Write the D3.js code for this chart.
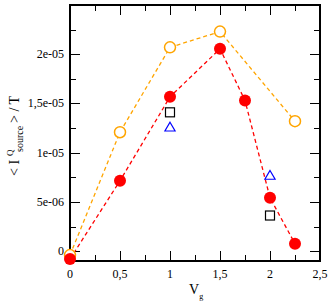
<!DOCTYPE html>
<html>
<head>
    <style>
        body { margin: 0; background: #fff; }
        svg { font-family: "Liberation Serif", "DejaVu Serif", serif; }
        .tick-label { font-size: 12px; fill: #000; }
        .axis-title { font-size: 14px; fill: #000; }
    </style>
    <script src="https://d3js.org/d3.v7.min.js"></script>
</head>
<body>
    <svg width="328" height="303"></svg>
    <script>
        // data
        var vgRed = [0, 0.5, 1, 1.5, 1.75, 2, 2.25];
        var currentRed = [-8e-7, 7.15e-6, 1.567e-5, 2.055e-5, 1.53e-5, 5.42e-6, 7.5e-7];

        var vgOrange = [0, 0.5, 1, 1.5, 2.25];
        var currentOrange = [-4e-7, 1.208e-5, 2.07e-5, 2.23e-5, 1.32e-5];

        var vgSquare = [1, 2];
        var currentSquare = [1.41e-5, 3.62e-6];

        var vgTriangle = [1, 2];
        var currentTriangle = [1.25e-5, 7.6e-6];

        var xTickValues = [0, 0.5, 1, 1.5, 2, 2.5];
        var xTickLabels = ["0", "0,5", "1", "1,5", "2", "2,5"];
        var yTickValues = [0, 5e-6, 1e-5, 1.5e-5, 2e-5];
        var yTickLabels = ["0", "5e-06", "1e-05", "1,5e-05", "2e-05"];

        var svg = d3.select("svg");
        var pLeft = 70, pRight = 320, pTop = 5, pBottom = 261;

        var x = d3.scaleLinear().domain([0, 2.5]).range([pLeft, pRight]);
        var y = d3.scaleLinear().domain([-1e-6, 2.5e-5]).range([pBottom, pTop]);

        var xMinor = d3.range(0, 2.5001, 0.25);
        var yMinor = d3.range(0, 2.5e-5 + 1e-12, 2.5e-6);

        // ticks on all four sides, pointing inward
        var ticks = svg.append("g").attr("stroke", "#000").attr("stroke-width", 1);
        xMinor.forEach(function(v, i) {
            var len = (i % 2 === 0) ? 10 : 6;
            var px = Math.round(x(v)) + 0.5;
            ticks.append("line").attr("x1", px).attr("x2", px).attr("y1", pBottom).attr("y2", pBottom - len);
            ticks.append("line").attr("x1", px).attr("x2", px).attr("y1", pTop).attr("y2", pTop + len);
        });
        yMinor.forEach(function(v, i) {
            var len = (i % 2 === 0) ? 10 : 6;
            var py = Math.round(y(v)) + 0.5;
            ticks.append("line").attr("x1", pLeft).attr("x2", pLeft + len).attr("y1", py).attr("y2", py);
            ticks.append("line").attr("x1", pRight).attr("x2", pRight - len).attr("y1", py).attr("y2", py);
        });

        svg.append("rect")
           .attr("x", pLeft).attr("y", pTop)
           .attr("width", pRight - pLeft).attr("height", pBottom - pTop)
           .attr("fill", "none").attr("stroke", "#000").attr("stroke-width", 2);

        // tick labels
        svg.selectAll(".xl").data(xTickValues).enter().append("text")
           .attr("class", "tick-label")
           .attr("x", function(d) { return x(d); })
           .attr("y", pBottom + 17)
           .attr("text-anchor", "middle")
           .text(function(d, i) { return xTickLabels[i]; });

        svg.selectAll(".yl").data(yTickValues).enter().append("text")
           .attr("class", "tick-label")
           .attr("x", pLeft - 6)
           .attr("y", function(d) { return y(d) + 4; })
           .attr("text-anchor", "end")
           .text(function(d, i) { return yTickLabels[i]; });

        // axis titles
        var xt = svg.append("text").attr("class", "axis-title")
                    .attr("x", 189).attr("y", 294);
        xt.append("tspan").text("V");
        xt.append("tspan").attr("dy", 5).attr("font-size", "8px").text("g");

        var yt = svg.append("text").attr("class", "axis-title")
                    .attr("transform", "translate(19,176) rotate(-90)");
        yt.append("tspan").attr("x", 0).text("< I");
        yt.append("tspan").attr("x", 20).attr("dy", -6).attr("font-size", "9px").text("Q");
        yt.append("tspan").attr("x", 24).attr("dy", 10).attr("font-size", "10px").text("source");
        yt.append("tspan").attr("x", 53).attr("dy", -4).text("> / T");

        var line = d3.line()
                     .x(function(d) { return x(d[0]); })
                     .y(function(d) { return y(d[1]); });

        var orangePts = d3.zip(vgOrange, currentOrange);
        var redPts = d3.zip(vgRed, currentRed);

        svg.append("path").attr("d", line(orangePts))
           .attr("fill", "none").attr("stroke", "#ffa500")
           .attr("stroke-width", 1.3).attr("stroke-dasharray", "4,3");
        svg.append("path").attr("d", line(redPts))
           .attr("fill", "none").attr("stroke", "#ff0000")
           .attr("stroke-width", 1.3).attr("stroke-dasharray", "4,3");

        svg.selectAll(".oc").data(orangePts).enter().append("circle")
           .attr("cx", function(d) { return x(d[0]); })
           .attr("cy", function(d) { return y(d[1]); })
           .attr("r", 5.5)
           .attr("fill", "#fff").attr("stroke", "#ffa500").attr("stroke-width", 1.5);

        svg.selectAll(".rc").data(redPts).enter().append("circle")
           .attr("cx", function(d) { return x(d[0]); })
           .attr("cy", function(d) { return y(d[1]); })
           .attr("r", 6)
           .attr("fill", "#ff0000");

        svg.selectAll(".sq").data(d3.zip(vgSquare, currentSquare)).enter().append("rect")
           .attr("x", function(d) { return x(d[0]) - 4.5; })
           .attr("y", function(d) { return y(d[1]) - 4.5; })
           .attr("width", 9).attr("height", 9)
           .attr("fill", "none").attr("stroke", "#000").attr("stroke-width", 1.2);

        var tri = d3.symbol().type(d3.symbolTriangle).size(45);
        svg.selectAll(".tr").data(d3.zip(vgTriangle, currentTriangle)).enter().append("path")
           .attr("d", tri)
           .attr("transform", function(d) { return "translate(" + x(d[0]) + "," + y(d[1]) + ")"; })
           .attr("fill", "none").attr("stroke", "#0000ff").attr("stroke-width", 1.2);
    </script>
</body>
</html>
